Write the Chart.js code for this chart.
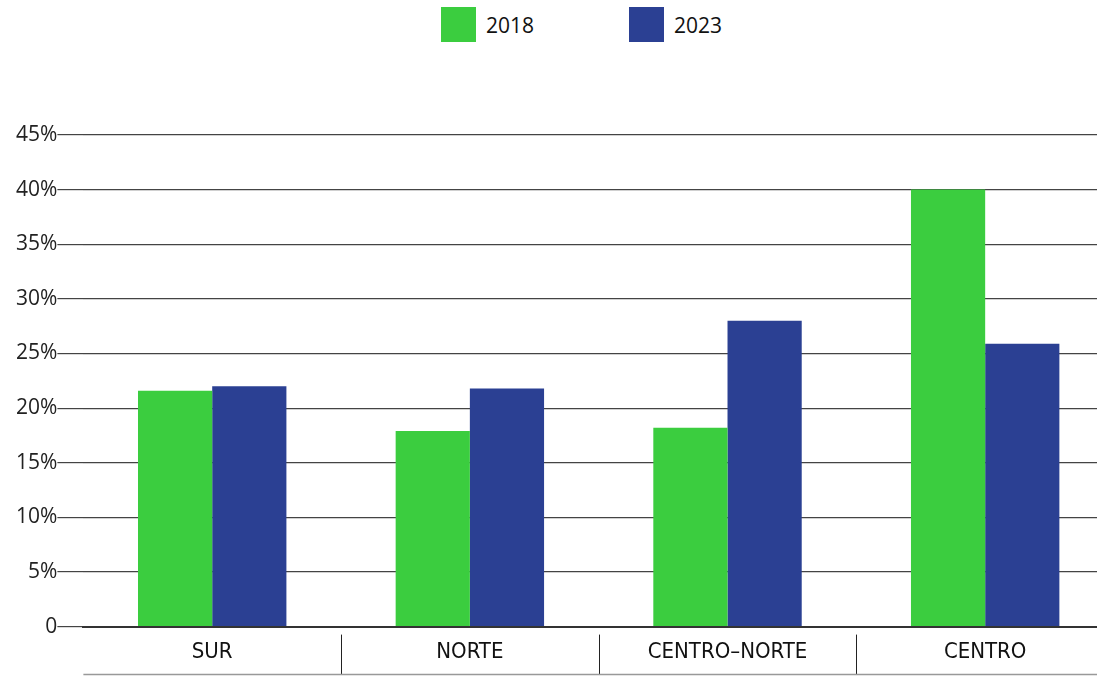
<!DOCTYPE html>
<html>
<head>
<meta charset="utf-8">
<script src="https://cdn.jsdelivr.net/npm/chart.js@4.4.1/dist/chart.umd.min.js"></script>
<style>
    html, body { margin: 0; padding: 0; background: #fff; overflow: hidden; }
    #legend { position: absolute; left: 441px; top: 7px; display: flex; font-family: "Open Sans", sans-serif; font-size: 21px; color: #111; }
    .item { display: flex; align-items: center; margin-right: 95px; }
    .box { width: 35px; height: 35px; margin-right: 10px; }
    #wrap { position: absolute; left: 0; top: 0; width: 1114px; height: 677px; }
</style>
</head>
<body>
<div id="legend"></div>
<div id="wrap"><canvas id="chart"></canvas></div>
<script>
// 数据
const categories = ['SUR', 'NORTE', 'CENTRO–NORTE', 'CENTRO'];
const years = ['2018', '2023'];
const values2018 = [21.6, 17.9, 18.2, 40.0];
const values2023 = [22.0, 21.8, 28.0, 25.9];
const yTicks = [0, 5, 10, 15, 20, 25, 30, 35, 40, 45];
const colors = ['#3bcd3f', '#2b4093'];

// HTML 图例
const legend = document.getElementById('legend');
years.forEach((y, i) => {
    const item = document.createElement('div');
    item.className = 'item';
    item.innerHTML = '<div class="box" style="background:' + colors[i] + '"></div><span>' + y + '</span>';
    legend.appendChild(item);
});

// 类别分隔线 + 底线
const separators = {
    id: 'separators',
    afterDraw(chart) {
        const x = chart.scales.x;
        const ctx = chart.ctx;
        const top = x.top + 8;
        const bottom = x.top + 48;
        ctx.save();
        ctx.lineWidth = 1;
        ctx.strokeStyle = '#222';
        for (let i = 1; i < categories.length; i++) {
            const px = Math.round((x.getPixelForTick(i - 1) + x.getPixelForTick(i)) / 2) + 0.5;
            ctx.beginPath();
            ctx.moveTo(px, top);
            ctx.lineTo(px, bottom);
            ctx.stroke();
        }
        ctx.strokeStyle = '#999';
        ctx.lineWidth = 1.5;
        ctx.beginPath();
        ctx.moveTo(chart.chartArea.left, bottom);
        ctx.lineTo(chart.width, bottom);
        ctx.stroke();
        ctx.restore();
    }
};

const ctx = document.getElementById('chart').getContext('2d');
new Chart(ctx, {
    type: 'bar',
    data: {
        labels: categories,
        datasets: [
            { label: years[0], data: values2018, backgroundColor: colors[0] },
            { label: years[1], data: values2023, backgroundColor: colors[1] }
        ]
    },
    options: {
        responsive: true,
        maintainAspectRatio: false,
        animation: false,
        layout: { padding: { top: 135, left: 16, right: 0, bottom: 0 } },
        datasets: { bar: { categoryPercentage: 0.576, barPercentage: 1 } },
        plugins: {
            legend: { display: false },
            tooltip: { enabled: false }
        },
        scales: {
            x: {
                grid: { display: false, drawTicks: false },
                border: { display: true, color: '#333', width: 2 },
                ticks: {
                    color: '#111',
                    padding: 12,
                    font: { family: '"DejaVu Sans Condensed", "Liberation Sans Narrow", sans-serif', size: 22 }
                }
            },
            y: {
                min: 0,
                max: 45,
                afterBuildTicks(axis) { axis.ticks = yTicks.map(v => ({ value: v })); },
                grid: { color: '#444', lineWidth: 1.2, tickLength: 26 },
                border: { display: false },
                ticks: {
                    color: '#222',
                    padding: 0,
                    font: { family: '"Open Sans", sans-serif', size: 21 },
                    callback: v => v === 0 ? '0' : v + '%'
                }
            }
        }
    },
    plugins: [separators]
});
</script>
</body>
</html>
